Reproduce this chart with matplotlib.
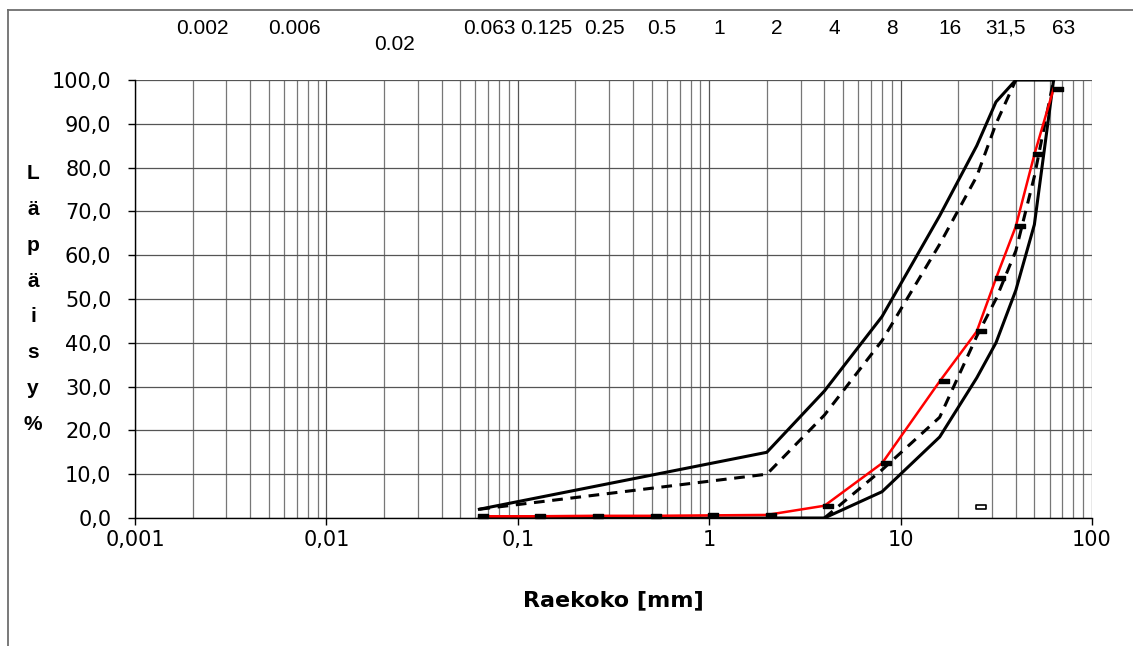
import matplotlib
matplotlib.use("Agg")
import matplotlib.pyplot as plt
import matplotlib.ticker as mticker
import matplotlib.transforms as mtrans
from matplotlib.lines import Line2D
from matplotlib.path import Path

# ---------------- data ----------------
sieves = [0.063, 0.125, 0.25, 0.5, 1, 2, 4, 8, 16, 25, 31.5, 40, 50, 63]
sample = [0.4, 0.4, 0.5, 0.5, 0.6, 0.7, 2.8, 12.5, 31.2, 42.6, 54.7, 66.6, 83.0, 98.0]

upper_solid_x = [0.063, 2, 4, 8, 16, 25, 31.5, 40, 63]
upper_solid_y = [2, 15, 29, 46, 69, 85, 95, 100, 100]
upper_dashed_x = [0.063, 2, 4, 8, 16, 25, 31.5, 40]
upper_dashed_y = [2, 10, 23.5, 40.5, 62.5, 78, 90, 100]
lower_dashed_x = [4, 8, 16, 25, 31.5, 40, 50, 63]
lower_dashed_y = [0, 11, 23, 41.5, 50, 61, 78, 100]
lower_solid_x = [0.063, 4, 8, 16, 25, 31.5, 40, 50, 63]
lower_solid_y = [0, 0, 6, 18.5, 32, 40, 52, 67, 100]

stray_x = [25]
stray_y = [2.5]

top_label_vals = [0.002, 0.006, 0.02, 0.063, 0.125, 0.25, 0.5, 1, 2, 4, 8, 16, 31.5, 63]
top_label_txt = ["0.002", "0.006", "0.02", "0.063", "0.125", "0.25", "0.5",
                 "1", "2", "4", "8", "16", "31,5", "63"]
x_tick_vals = [0.001, 0.01, 0.1, 1, 10, 100]
x_tick_txt = ["0,001", "0,01", "0,1", "1", "10", "100"]
y_tick_vals = [0, 10, 20, 30, 40, 50, 60, 70, 80, 90, 100]

plt.rcParams["font.family"] = "DejaVu Sans"

W, H = 1133, 646
fig = plt.figure(figsize=(W / 100, H / 100), dpi=100)
fig.patch.set_facecolor("white")

L, R, T, B = 135, 1092, 80, 518
ax = fig.add_axes([L / W, 1 - B / H, (R - L) / W, (B - T) / H])
ax.set_xscale("log")
ax.set_xlim(0.001, 100)
ax.set_ylim(0, 100)

ax.xaxis.set_major_locator(mticker.FixedLocator(x_tick_vals))
ax.xaxis.set_major_formatter(mticker.FixedFormatter(x_tick_txt))
ax.xaxis.set_minor_locator(mticker.LogLocator(base=10, subs=[2, 3, 4, 5, 6, 7, 8, 9], numticks=20))
ax.xaxis.set_minor_formatter(mticker.NullFormatter())
ax.yaxis.set_major_locator(mticker.FixedLocator(y_tick_vals))
ax.yaxis.set_major_formatter(mticker.FuncFormatter(lambda v, p: f"{v:.1f}".replace(".", ",")))

ax.grid(True, which="major", axis="both", color="#555555", lw=0.9)
ax.grid(True, which="minor", axis="x", color="#777777", lw=0.9)
ax.set_axisbelow(True)
ax.tick_params(axis="both", which="major", direction="out", length=5, width=1, labelsize=15, color="black")
ax.tick_params(axis="y", which="major", pad=12)
ax.tick_params(axis="x", which="major", pad=4)
ax.tick_params(which="minor", length=0)
for s in ["top", "right"]:
    ax.spines[s].set_visible(False)
for s in ["left", "bottom"]:
    ax.spines[s].set_color("black")
    ax.spines[s].set_linewidth(1.0)

lw_env = 2.2
dash = (0, (3.5, 2.5))
ax.plot(upper_solid_x, upper_solid_y, color="black", lw=lw_env, solid_joinstyle="miter", zorder=3)
ax.plot(lower_solid_x, lower_solid_y, color="black", lw=lw_env, solid_joinstyle="miter", zorder=3)
ax.plot(upper_dashed_x, upper_dashed_y, color="black", lw=lw_env, linestyle=dash, zorder=3)
ax.plot(lower_dashed_x, lower_dashed_y, color="black", lw=lw_env, linestyle=dash, zorder=3)
ax.plot(sieves, sample, color="#ff0000", lw=1.8, zorder=4)

rect = Path([(-1, -0.45), (1, -0.45), (1, 0.45), (-1, 0.45), (-1, -0.45)],
            [Path.MOVETO, Path.LINETO, Path.LINETO, Path.LINETO, Path.CLOSEPOLY])
mk_trans = mtrans.offset_copy(ax.transData, fig=fig, x=4, y=0, units="dots")
ax.plot(sieves, sample, linestyle="none", marker=rect, ms=6.5, mfc="black", mec="black",
        transform=mk_trans, zorder=5, clip_on=False)
ax.plot(stray_x, stray_y, linestyle="none", marker=rect, ms=6.5, mfc="white", mec="black",
        mew=1.2, transform=mk_trans, zorder=5)

# top sieve labels
blend = mtrans.blended_transform_factory(ax.transData, fig.transFigure)
top_trans = mtrans.offset_copy(blend, fig=fig, x=10, y=0, units="dots")
for v, t in zip(top_label_vals, top_label_txt):
    yy = 45 if t == "0.02" else 28
    fig.text(v, 1 - yy / H, t, transform=top_trans, ha="center", va="center",
             fontsize=15, family=["Liberation Sans", "DejaVu Sans"])

# axis titles
fig.text((L + R) / 2 / W, 1 - 600 / H, "Raekoko [mm]", ha="center", va="center",
         fontsize=16, fontweight="bold")
fig.text(33 / W, 1 - 299 / H, "L\nä\np\nä\ni\ns\ny\n%", ha="center", va="center",
         multialignment="center", fontsize=15, fontweight="bold", linespacing=2.13,
         family=["Liberation Sans", "DejaVu Sans"])

# outer frame (top and left edges)
fig.add_artist(Line2D([8 / W, 1.0], [1 - 10 / H, 1 - 10 / H], transform=fig.transFigure,
                      color="#6e6e6e", lw=1.3))
fig.add_artist(Line2D([8 / W, 8 / W], [1 - 10 / H, 0.0], transform=fig.transFigure,
                      color="#6e6e6e", lw=1.3))

fig.savefig("out.png", dpi=100, facecolor="white")
